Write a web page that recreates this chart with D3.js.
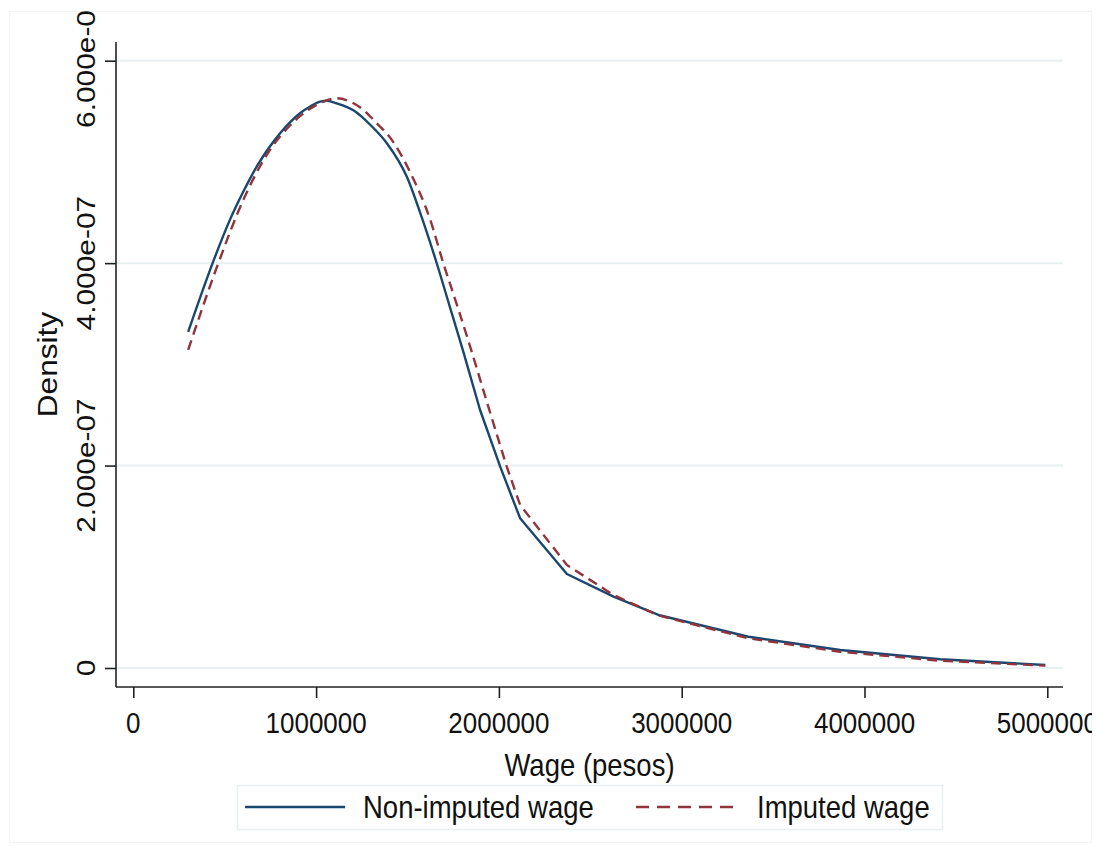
<!DOCTYPE html>
<html>
<head>
<meta charset="utf-8">
<script src="https://cdn.jsdelivr.net/npm/d3@7"></script>
<style>
  html, body { margin: 0; padding: 0; background: #fff; }
  svg { display: block; font-family: Arial, "Liberation Sans", sans-serif; }
</style>
</head>
<body>
<svg id="chart" width="1101" height="854"></svg>
<script>
// ---- data (wage in pesos, density) ----
const nonImputedWage = [300000, 438000, 529000, 600000, 675000, 803000, 912000, 970000, 1022000, 1060000, 1100000, 1150000, 1204000, 1300000, 1387000, 1496000, 1569000, 1660000, 1733000, 1806000, 1897000, 2007000, 2116000, 2372000, 2627000, 2873000, 3365000, 3867000, 4414000, 4989000];
const nonImputedDensity = [3.32e-7, 4.02e-7, 4.43e-7, 4.70e-7, 4.954e-7, 5.283e-7, 5.481e-7, 5.55e-7, 5.596e-7, 5.605e-7, 5.585e-7, 5.555e-7, 5.51e-7, 5.36e-7, 5.185e-7, 4.855e-7, 4.50e-7, 3.999e-7, 3.56e-7, 3.12e-7, 2.549e-7, 1.989e-7, 1.479e-7, 0.929e-7, 0.705e-7, 0.524e-7, 0.309e-7, 0.178e-7, 0.086e-7, 0.030e-7];

const imputedWage = [300000, 465000, 602000, 730000, 857000, 950000, 1040000, 1113000, 1186000, 1259000, 1330000, 1405000, 1514000, 1624000, 1696000, 1770000, 1842000, 1934000, 2043000, 2116000, 2372000, 2627000, 2873000, 3365000, 3867000, 4414000, 4989000];
const imputedDensity = [3.142e-7, 3.999e-7, 4.625e-7, 5.07e-7, 5.36e-7, 5.504e-7, 5.596e-7, 5.629e-7, 5.596e-7, 5.514e-7, 5.385e-7, 5.240e-7, 4.90e-7, 4.43e-7, 3.999e-7, 3.59e-7, 3.18e-7, 2.63e-7, 1.989e-7, 1.611e-7, 1.018e-7, 0.721e-7, 0.519e-7, 0.293e-7, 0.161e-7, 0.072e-7, 0.023e-7];

const xTickValues = [0, 1000000, 2000000, 3000000, 4000000, 5000000];
const xTickLabels = ["0", "1000000", "2000000", "3000000", "4000000", "5000000"];
const yTickValues = [0, 2e-7, 4e-7, 6e-7];
const yTickLabels = ["0", "2.000e-07", "4.000e-07", "6.000e-07"];

const seriesNames = ["Non-imputed wage", "Imputed wage"];
const xTitle = "Wage (pesos)";
const yTitle = "Density";

// ---- layout ----
const svg = d3.select("#chart");
const STRETCH = 1.15;
const axisLeftX = 116, axisRightX = 1063, axisTopY = 42, axisBottomY = 687;
const x = d3.scaleLinear().domain([0, 5000000]).range([133.3, 1047.3]);
const y = d3.scaleLinear().domain([0, 6e-7]).range([668, 60.7]);

const navy = "#1a476f", maroon = "#90353b", gridCol = "#e8f0f1";

svg.append("defs").append("clipPath").attr("id", "frameClip")
  .append("rect").attr("x", 9).attr("y", 11).attr("width", 1083).attr("height", 832);

const root = svg.append("g").attr("clip-path", "url(#frameClip)");

// faint outer frame
root.append("rect").attr("x", 9.5).attr("y", 11.5).attr("width", 1082).attr("height", 831)
  .attr("fill", "#fff").attr("stroke", "#f1f5f5").attr("stroke-width", 1);

// grid
root.append("g").selectAll("line").data(yTickValues).join("line")
  .attr("x1", axisLeftX).attr("x2", axisRightX)
  .attr("y1", d => y(d)).attr("y2", d => y(d))
  .attr("stroke", gridCol).attr("stroke-width", 2);

// curves: smooth body, straight segments in the tail
const smoothLine = d3.line().x(d => x(d[0])).y(d => y(d[1])).curve(d3.curveMonotoneX);
const straightLine = d3.line().x(d => x(d[0])).y(d => y(d[1])).curve(d3.curveLinear);
function hybridPath(data, breakWage) {
  const k = data.findIndex(d => d[0] >= breakWage);
  const d1 = smoothLine(data.slice(0, k + 1));
  const d2 = straightLine(data.slice(k));
  return d1 + d2.replace(/^M/, "L");
}
const nonData = nonImputedWage.map((w, i) => [w, nonImputedDensity[i]]);
const impData = imputedWage.map((w, i) => [w, imputedDensity[i]]);

root.append("path").attr("d", hybridPath(nonData, 1897000))
  .attr("fill", "none").attr("stroke", navy).attr("stroke-width", 2.4)
  .attr("stroke-linejoin", "round");
root.append("path").attr("d", hybridPath(impData, 2043000))
  .attr("fill", "none").attr("stroke", maroon).attr("stroke-width", 2.4)
  .attr("stroke-dasharray", "10,6");

// axes (d3 axes for ticks, custom domain lines)
const yAxis = d3.axisLeft(y).tickValues(yTickValues).tickSize(11).tickFormat("");
const gy = root.append("g").attr("transform", `translate(${axisLeftX},0)`).call(yAxis);
gy.select(".domain").remove();
gy.selectAll(".tick line").attr("stroke", "#222").attr("stroke-width", 1.6);

const xAxis = d3.axisBottom(x).tickValues(xTickValues).tickSize(11).tickFormat("");
const gx = root.append("g").attr("transform", `translate(0,${axisBottomY})`).call(xAxis);
gx.select(".domain").remove();
gx.selectAll(".tick line").attr("stroke", "#222").attr("stroke-width", 1.6);

root.append("line").attr("x1", axisLeftX).attr("x2", axisLeftX).attr("y1", axisTopY).attr("y2", axisBottomY)
  .attr("stroke", "#222").attr("stroke-width", 1.6);
root.append("line").attr("x1", axisLeftX).attr("x2", axisRightX).attr("y1", axisBottomY).attr("y2", axisBottomY)
  .attr("stroke", "#222").attr("stroke-width", 1.6);

// tick labels
root.append("g").selectAll("text").data(yTickValues).join("text")
  .attr("transform", d => `translate(95,${y(d)}) scale(1,${STRETCH}) rotate(-90)`)
  .attr("text-anchor", "middle").attr("font-size", 26).attr("fill", "#111")
  .text((d, i) => yTickLabels[i]);

root.append("g").selectAll("text").data(xTickValues).join("text")
  .attr("transform", d => `translate(${x(d)},733) scale(1,${STRETCH})`)
  .attr("text-anchor", "middle").attr("font-size", 26).attr("fill", "#111")
  .text((d, i) => xTickLabels[i]);

// titles
root.append("text").attr("transform", `translate(${(axisLeftX + axisRightX) / 2},776) scale(1,${STRETCH})`)
  .attr("text-anchor", "middle").attr("font-size", 27.5).attr("fill", "#111").text(xTitle);
root.append("text").attr("transform", `translate(57,${(axisTopY + axisBottomY) / 2}) scale(1,${STRETCH}) rotate(-90)`)
  .attr("text-anchor", "middle").attr("font-size", 27.5).attr("fill", "#111").text(yTitle);

// legend
const lg = root.append("g");
lg.append("rect").attr("x", 237.5).attr("y", 785.5).attr("width", 705).attr("height", 44)
  .attr("fill", "#fff").attr("stroke", "#e8f0f1").attr("stroke-width", 1.5);
const legendItems = [
  { name: seriesNames[0], color: navy, dash: null, x1: 245, x2: 345, tx: 363 },
  { name: seriesNames[1], color: maroon, dash: "13,8", x1: 636, x2: 741, tx: 757 }
];
legendItems.forEach(it => {
  lg.append("line").attr("x1", it.x1).attr("x2", it.x2).attr("y1", 807).attr("y2", 807)
    .attr("stroke", it.color).attr("stroke-width", 2.4).attr("stroke-dasharray", it.dash);
  lg.append("text").attr("transform", `translate(${it.tx},818) scale(1,${STRETCH})`)
    .attr("font-size", 27.5).attr("fill", "#111").text(it.name);
});
</script>
</body>
</html>
